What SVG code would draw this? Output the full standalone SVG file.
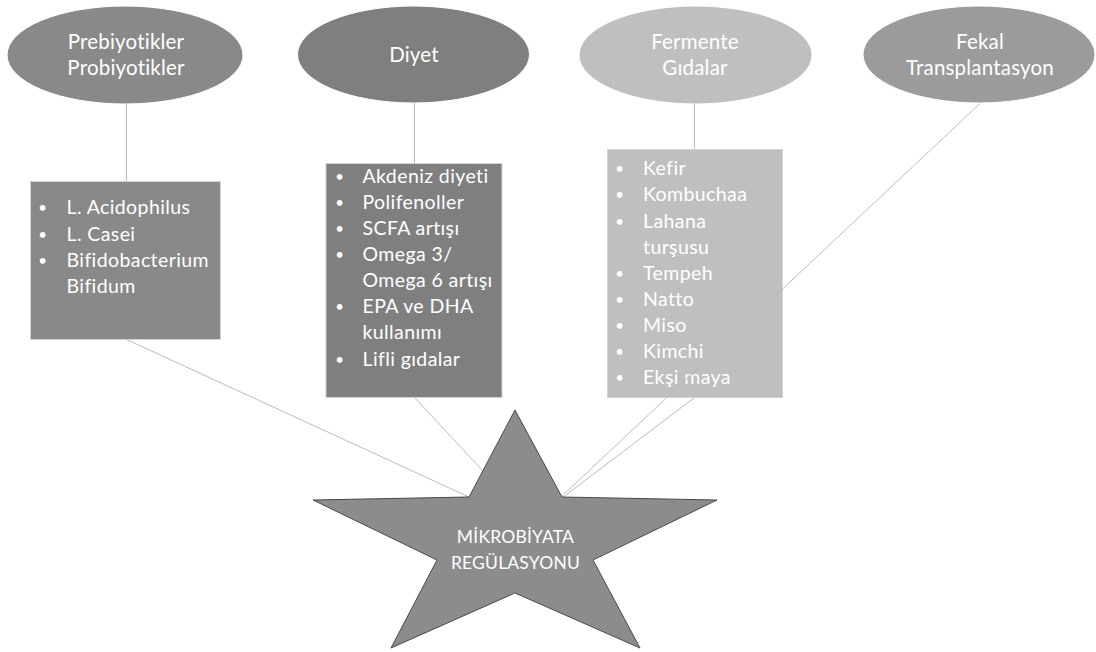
<svg xmlns="http://www.w3.org/2000/svg" width="1096" height="652" viewBox="0 0 1096 652">
<style>
text{font-family:Lato,"Open Sans","Liberation Sans",sans-serif;fill:#ffffff}
.et{font-size:20.5px;text-anchor:middle;letter-spacing:0.2px}
.bt{font-size:19.5px;letter-spacing:0.4px}
.bu{font-size:15px;text-anchor:middle}
.st{font-size:17.5px;text-anchor:middle;letter-spacing:0.2px}
.ell{stroke:#ffffff;stroke-width:1}
.box{stroke:#d4d4d4;stroke-width:1}
.con line{stroke:#b4b4b4;stroke-width:0.9;fill:none}
</style>
<rect width="1096" height="652" fill="#ffffff"/>
<g id="ellipse-prebiyotikler">
<ellipse class="ell" cx="125" cy="55" rx="118" ry="49" fill="#898989"/>
<text class="et" x="126" y="49">Prebiyotikler</text>
<text class="et" x="126" y="75">Probiyotikler</text>
</g>
<g id="ellipse-diyet">
<ellipse class="ell" cx="413.5" cy="54.5" rx="116" ry="48.5" fill="#7f7f7f"/>
<text class="et" x="414" y="62">Diyet</text>
</g>
<g id="ellipse-fermente">
<ellipse class="ell" cx="695.5" cy="55" rx="116.5" ry="49" fill="#bfbfbf"/>
<text class="et" x="695" y="49">Fermente</text>
<text class="et" x="695" y="75">Gıdalar</text>
</g>
<g id="ellipse-fekal">
<ellipse class="ell" cx="979" cy="54.5" rx="116" ry="48.5" fill="#9b9b9b"/>
<text class="et" x="980" y="49">Fekal</text>
<text class="et" x="980" y="75">Transplantasyon</text>
</g>
<g id="box-probiyotik">
<rect class="box" x="30.5" y="181.5" width="190" height="158" fill="#898989"/>
<text class="bu" x="42.5" y="213">•</text><text class="bt" x="66.5" y="214">L. Acidophilus</text>
<text class="bu" x="42.5" y="239.5">•</text><text class="bt" x="66.5" y="240.5">L. Casei</text>
<text class="bu" x="42.5" y="265.5">•</text><text class="bt" x="66.5" y="266.5">Bifidobacterium</text>
<text class="bt" x="66.5" y="292.5">Bifidum</text>
</g>
<g id="box-diyet">
<rect class="box" x="326" y="163.5" width="176" height="234" fill="#7f7f7f"/>
<text class="bu" x="339.5" y="181.5">•</text><text class="bt" x="362.5" y="182.5">Akdeniz diyeti</text>
<text class="bu" x="339.5" y="208">•</text><text class="bt" x="362.5" y="209">Polifenoller</text>
<text class="bu" x="339.5" y="234">•</text><text class="bt" x="362.5" y="235">SCFA artışı</text>
<text class="bu" x="339.5" y="260">•</text><text class="bt" x="362.5" y="261">Omega 3/</text>
<text class="bt" x="362.5" y="287">Omega 6 artışı</text>
<text class="bu" x="339.5" y="312">•</text><text class="bt" x="362.5" y="313">EPA ve DHA</text>
<text class="bt" x="362.5" y="339">kullanımı</text>
<text class="bu" x="339.5" y="364.5">•</text><text class="bt" x="362.5" y="365.5">Lifli gıdalar</text>
</g>
<g id="box-fermente">
<rect class="box" x="607.5" y="149.5" width="175" height="248" fill="#bfbfbf"/>
<text class="bu" x="619.5" y="174">•</text><text class="bt" x="643" y="175">Kefir</text>
<text class="bu" x="619.5" y="200.3">•</text><text class="bt" x="643" y="201.3">Kombuchaa</text>
<text class="bu" x="619.5" y="226.5">•</text><text class="bt" x="643" y="227.5">Lahana</text>
<text class="bt" x="643" y="253.5">turşusu</text>
<text class="bu" x="619.5" y="278.5">•</text><text class="bt" x="643" y="279.5">Tempeh</text>
<text class="bu" x="619.5" y="304.7">•</text><text class="bt" x="643" y="305.7">Natto</text>
<text class="bu" x="619.5" y="330.8">•</text><text class="bt" x="643" y="331.8">Miso</text>
<text class="bu" x="619.5" y="357.2">•</text><text class="bt" x="643" y="358.2">Kimchi</text>
<text class="bu" x="619.5" y="383.3">•</text><text class="bt" x="643" y="384.3">Ekşi maya</text>
</g>
<g id="connectors" class="con">
<line x1="126.5" y1="104" x2="126.5" y2="181"/>
<line x1="414.5" y1="103" x2="414.5" y2="163"/>
<line x1="694.5" y1="104" x2="694.5" y2="149"/>
<line x1="126.5" y1="339.5" x2="470" y2="497.5"/>
<line x1="414.5" y1="397.5" x2="484" y2="472"/>
<line x1="694.5" y1="397.5" x2="562" y2="498"/>
<line x1="980" y1="103.5" x2="561" y2="497"/>
</g>
<g id="star-mikrobiyata">
<polygon points="515,410 562,497 717,500 593,560 640,648 515,593 391,648 437,560 313,500 469,497" fill="#8c8c8c" stroke="#4a4a4a" stroke-width="1"/>
<text class="st" x="515.5" y="542.5">MİKROBİYATA</text>
<text class="st" x="515.5" y="568.5">REGÜLASYONU</text>
</g>
</svg>
